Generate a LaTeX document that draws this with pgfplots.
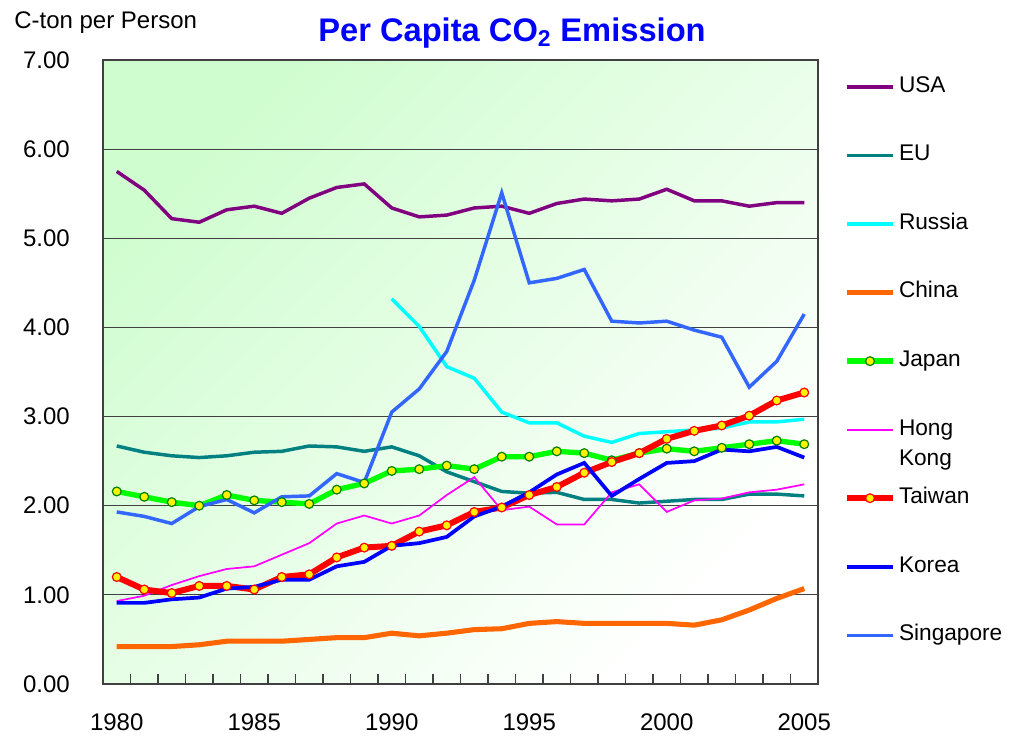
\documentclass[border=0pt]{standalone}
\usepackage{fontspec}
\setmainfont{Liberation Sans}
\usepackage{pgfplots}
\usepackage{pgfplotstable}
\pgfplotsset{compat=1.18}

\definecolor{cUSA}{RGB}{128,0,128}
\definecolor{cEU}{RGB}{0,128,128}
\definecolor{cRus}{RGB}{0,255,255}
\definecolor{cChina}{RGB}{255,102,0}
\definecolor{cJapan}{RGB}{0,255,0}
\definecolor{cJapanEdge}{RGB}{0,128,0}
\definecolor{cHK}{RGB}{255,0,255}
\definecolor{cTaiwan}{RGB}{255,0,0}
\definecolor{cKorea}{RGB}{0,0,255}
\definecolor{cSing}{RGB}{51,102,255}
\definecolor{bggreen}{RGB}{208,253,208}

% per capita CO2, C-ton per person
\pgfplotstableread{
year USA  EU   Russia China Japan HK   Taiwan Korea Singapore
1980 5.75 2.67 nan  0.42 2.16 0.93 1.20 0.91 1.93
1981 5.54 2.60 nan  0.42 2.10 0.99 1.06 0.91 1.88
1982 5.22 2.56 nan  0.42 2.04 1.11 1.02 0.95 1.80
1983 5.18 2.54 nan  0.44 2.00 1.21 1.10 0.97 1.99
1984 5.32 2.56 nan  0.48 2.12 1.29 1.10 1.07 2.07
1985 5.36 2.60 nan  0.48 2.06 1.32 1.06 1.09 1.92
1986 5.28 2.61 nan  0.48 2.04 1.45 1.20 1.17 2.10
1987 5.45 2.67 nan  0.50 2.02 1.58 1.23 1.17 2.11
1988 5.57 2.66 nan  0.52 2.18 1.80 1.42 1.32 2.36
1989 5.61 2.61 nan  0.52 2.25 1.89 1.53 1.37 2.26
1990 5.34 2.66 4.32 0.57 2.39 1.80 1.55 1.55 3.05
1991 5.24 2.56 4.01 0.54 2.41 1.89 1.71 1.58 3.31
1992 5.26 2.38 3.56 0.57 2.45 2.12 1.78 1.65 3.73
1993 5.34 2.27 3.43 0.61 2.41 2.32 1.93 1.88 4.53
1994 5.36 2.16 3.05 0.62 2.55 1.95 1.98 1.99 5.51
1995 5.28 2.14 2.93 0.68 2.55 1.99 2.12 2.15 4.50
1996 5.39 2.15 2.93 0.70 2.61 1.79 2.21 2.35 4.55
1997 5.44 2.07 2.78 0.68 2.59 1.79 2.37 2.48 4.65
1998 5.42 2.07 2.71 0.68 2.51 2.15 2.49 2.11 4.07
1999 5.44 2.03 2.81 0.68 2.59 2.24 2.59 2.30 4.05
2000 5.55 2.05 2.83 0.68 2.64 1.93 2.75 2.48 4.07
2001 5.42 2.07 2.85 0.66 2.61 2.06 2.84 2.50 3.97
2002 5.42 2.07 2.87 0.72 2.65 2.08 2.90 2.63 3.89
2003 5.36 2.13 2.94 0.83 2.69 2.15 3.01 2.61 3.33
2004 5.40 2.13 2.94 0.96 2.73 2.18 3.18 2.66 3.62
2005 5.40 2.11 2.97 1.07 2.69 2.24 3.27 2.54 4.15
}\co

\begin{document}
\begin{tikzpicture}
\begin{axis}[
    width=536.25pt, height=468pt,
    scale only axis,
    xmin=1979.5, xmax=2005.5,
    ymin=0, ymax=7,
    xtick={1980,1985,...,2005},
    minor xtick={1979.5,1980.5,...,2005.5},
    ytick={0,1,...,7},
    xtick pos=bottom,
    major tick length=0pt,
    minor tick length=7.5pt,
    minor tick style={line width=1pt, black!75},
    tick align=inside,
    ymajorgrids,
    grid style={line width=0.8pt, black!75},
    axis line style={line width=1.3pt, black!75},
    /pgf/number format/assume math mode=true,
    /pgf/number format/set thousands separator={},
    yticklabel style={/pgf/number format/fixed, /pgf/number format/fixed zerofill,
        /pgf/number format/precision=2, inner sep=0pt, xshift=-24.75pt},
    xticklabel style={inner sep=0pt, anchor=north, yshift=-21.75pt},
    tick label style={font=\fontsize{18}{21}\selectfont},
    axis background/.style={top color=bggreen, bottom color=white, shading angle=45},
    legend style={at={(1,1)}, anchor=north west, xshift=19.5pt, yshift=-11.25pt,
        draw=none, fill=none, inner sep=0pt, outer sep=0pt,
        row sep=33.4pt, column sep=1.25pt,
        font=\fontsize{17}{20}\selectfont,
        nodes={inner sep=1pt, text height=12pt, text depth=4pt}},
    legend cell align=left,
    legend image code/.code={\draw[mark repeat=2,mark phase=2,#1]
        plot coordinates {(0pt,0pt) (17.25pt,0pt) (34.5pt,0pt)};},
    unbounded coords=discard,
]
\addplot[cUSA, line width=2.6pt, no markers] table[x=year, y=USA] {\co};
\addlegendentry{USA}
\addplot[cEU, line width=2.6pt, no markers] table[x=year, y=EU] {\co};
\addlegendentry{EU}
\addplot[cRus, line width=2.6pt, no markers] table[x=year, y=Russia] {\co};
\addlegendentry{Russia}
\addplot[cChina, line width=3.8pt, no markers] table[x=year, y=China] {\co};
\addlegendentry{China}
\addplot[cJapan, line width=4pt, mark=*, mark size=3.3pt,
    mark options={fill=yellow, draw=cJapanEdge, line width=0.9pt}] table[x=year, y=Japan] {\co};
\addlegendentry{Japan}
\addplot[cHK, line width=1.3pt, no markers] table[x=year, y=HK] {\co};
\addlegendentry{\vtop{\baselineskip=22.5pt\hbox{Hong}\hbox{Kong}}}
\addplot[cTaiwan, line width=4.5pt, mark=*, mark size=3.3pt,
    mark options={fill=yellow, draw=cTaiwan, line width=0.9pt}] table[x=year, y=Taiwan] {\co};
\addlegendentry{Taiwan}
\addplot[cKorea, line width=2.8pt, no markers] table[x=year, y=Korea] {\co};
\addlegendentry{Korea}
\addplot[cSing, line width=2.6pt, no markers] table[x=year, y=Singapore] {\co};
\addlegendentry{Singapore}
\coordinate (bl) at (rel axis cs:0,0);
\coordinate (tl) at (rel axis cs:0,1);
\coordinate (tr) at (rel axis cs:1,1);
\end{axis}
\node[anchor=center, text=blue, font=\fontsize{24.5}{28}\selectfont\bfseries]
    at ([shift={(306.75pt,20.25pt)}]tl) {Per Capita CO\textsubscript{2} Emission};
\node[anchor=west, inner sep=0pt, font=\fontsize{18}{21}\selectfont]
    at ([shift={(-66.75pt,27.75pt)}]tl) {C-ton per Person};
\pgfresetboundingbox
\path[use as bounding box] ([shift={(-77.25pt,-40.5pt)}]bl) rectangle ([shift={(144pt,45pt)}]tr);
\end{tikzpicture}
\end{document}
